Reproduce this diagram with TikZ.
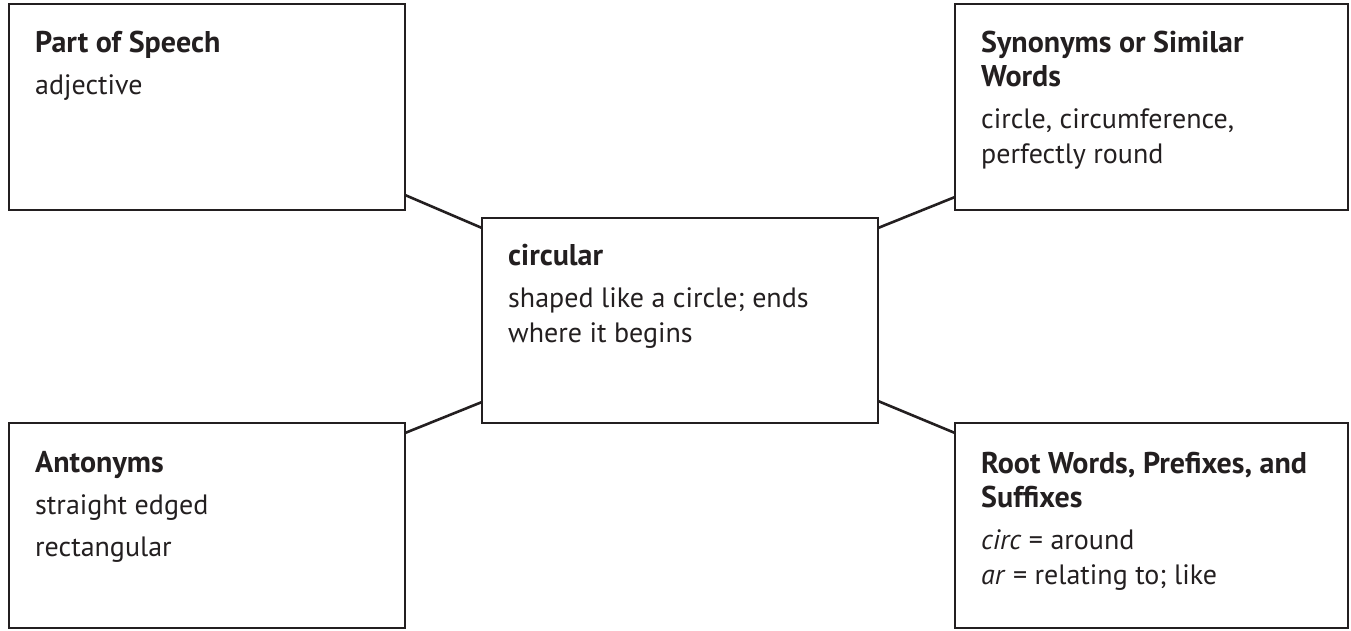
\documentclass[tikz,border=0pt]{standalone}
\usepackage{fontspec}
\setmainfont{PT Sans}
\definecolor{ink}{HTML}{231F20}
\newcommand{\boxtext}[1]{\begin{minipage}[t]{370pt}\raggedright\fontsize{28}{35}\selectfont\setlength{\parskip}{7pt}\setlength{\parindent}{0pt}#1\end{minipage}}
\newcommand{\headtext}[1]{{\fontsize{30}{34}\selectfont\bfseries #1\par}}
\begin{document}
\begin{tikzpicture}[x=1pt,y=-1pt,
  box/.style={draw=ink, line width=2.6pt, fill=none, inner sep=0pt, outer sep=0pt, minimum width=396pt},
  label/.style={anchor=base west, inner sep=0pt, text=ink},
  link/.style={draw=ink, line width=2.6pt}]
\useasboundingbox (0,0) rectangle (1351,630);
\node[box, minimum height=206pt] (tl) at (207,107) {};
\node[box, minimum width=393pt, minimum height=206pt] (tr) at (1151.5,107) {};
\node[box, minimum height=205pt] (c) at (680,320.5) {};
\node[box, minimum height=205pt] (bl) at (207,525.5) {};
\node[box, minimum width=393pt, minimum height=205pt] (br) at (1151.5,525.5) {};
\node[label] (tlt) at (35,52) {\boxtext{\headtext{Part of Speech}adjective}};
\node[label] (trt) at (981,52) {\boxtext{\headtext{Synonyms or Similar\\Words}circle, circumference,\\perfectly round}};
\node[label] (ct) at (508,265) {\boxtext{\headtext{circular}shaped like a circle; ends\\where it begins}};
\node[label] (blt) at (35,472) {\boxtext{\headtext{Antonyms}straight edged\par rectangular}};
\node[label] (brt) at (981,473) {\boxtext{\headtext{Root Words, Prefixes, and\\Suffixes}\textit{circ} = around\\\textit{ar} = relating to; like}};
\draw[link] ([yshift=15pt]tl.south east) -- ([yshift=-10pt]c.north west);
\draw[link] ([yshift=-10pt]c.north east) -- ([yshift=13pt]tr.south west);
\draw[link] ([yshift=-10pt]bl.north east) -- ([yshift=21pt]c.south west);
\draw[link] ([yshift=22pt]c.south east) -- ([yshift=-10pt]br.north west);
\end{tikzpicture}
\end{document}
